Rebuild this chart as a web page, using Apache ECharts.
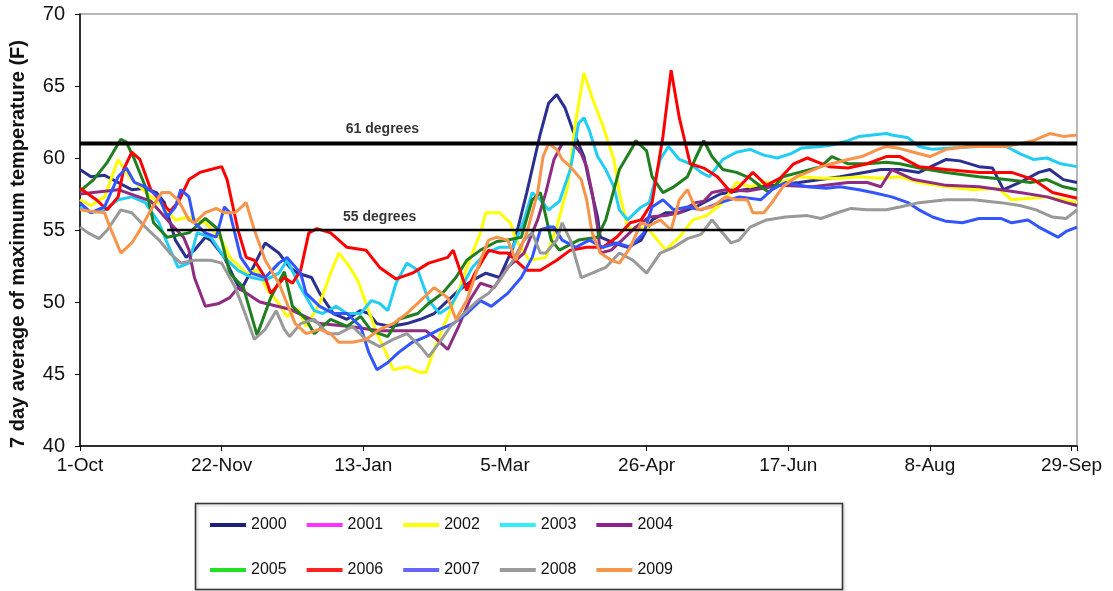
<!DOCTYPE html>
<html><head><meta charset="utf-8">
<script src="https://cdn.jsdelivr.net/npm/echarts@6/dist/echarts.min.js"></script>
<style>html,body{margin:0;padding:0;background:#fff}#c{width:1113px;height:591px}</style>
</head><body><div id="c"></div>
<script>
const categories = ['2000','2001','2002','2003','2004','2005','2006','2007','2008','2009'];
const tickLabels = ['1-Oct','22-Nov','13-Jan','5-Mar','26-Apr','17-Jun','8-Aug','29-Sep'];
const tickStep = 52;
const dayMax = 366;
const refLevels = [61, 55];
const refStart = [0, 32];
const refEnd = [366, 244];
const refText = ['61 degrees', '55 degrees'];
const refTextPos = [[111, 62.0], [110, 55.9]];

const s2000 = [[0,59.2],[4,58.7],[9,58.8],[14,58.3],[19,57.8],[24,57.9],[28,57.6],[31,56.9],[35,54.3],[39,53.1],[42,53.6],[46,54.5],[48,54.3],[53,53.1],[57,51.5],[59,50.8],[63,52.2],[68,54.1],[73,53.4],[77,52.4],[80,52.0],[85,51.7],[88,50.6],[93,49.2],[98,48.8],[103,49.4],[106,49.2],[109,48.5],[114,48.3],[120,48.5],[125,48.8],[130,49.2],[135,50.1],[139,50.8],[144,51.5],[149,52.0],[154,51.7],[159,53.8],[164,57.6],[169,61.7],[172,63.8],[175,64.4],[178,63.5],[181,61.9],[185,60.1],[187,58.3],[190,55.9],[191,54.5],[196,54.1],[201,53.8],[206,54.3],[210,55.7],[215,56.2],[220,56.2],[226,56.6],[235,57.5],[250,58.0],[264,58.3],[279,58.7],[294,59.2],[301,59.2],[308,59.0],[318,59.9],[323,59.8],[330,59.4],[335,59.3],[339,57.8],[345,58.3],[352,59.0],[356,59.2],[361,58.5],[366,58.3]];
const s2001 = [];
const s2002 = [[0,57.1],[4,56.7],[9,57.3],[14,59.9],[18,58.7],[22,58.0],[26,57.3],[31,56.6],[35,55.7],[40,55.9],[46,55.5],[52,54.3],[55,53.1],[61,52.0],[65,52.2],[69,50.8],[73,49.9],[76,49.0],[80,49.5],[83,48.3],[88,49.9],[92,52.0],[95,53.4],[98,52.7],[102,51.5],[105,49.9],[109,47.8],[113,46.2],[115,45.3],[120,45.5],[125,45.1],[127,45.1],[131,47.2],[135,49.0],[139,50.8],[143,52.9],[147,54.8],[149,56.2],[154,56.2],[158,55.5],[160,54.3],[165,52.9],[171,53.1],[175,55.2],[179,58.0],[182,62.6],[185,65.9],[188,64.2],[192,62.2],[196,59.9],[198,57.6],[201,55.2],[204,55.0],[208,55.2],[212,54.3],[215,53.6],[220,54.5],[225,55.7],[230,56.0],[236,56.9],[241,58.3],[246,58.0],[252,58.3],[257,58.3],[264,58.7],[272,58.6],[279,58.6],[286,58.7],[294,58.6],[301,58.7],[308,58.3],[318,58.0],[328,57.8],[337,57.9],[342,57.1],[349,57.2],[355,57.3],[361,57.1],[366,56.9]];
const s2003 = [[0,56.6],[4,56.2],[9,56.4],[14,57.1],[19,57.3],[24,56.9],[29,55.5],[32,54.1],[36,52.4],[40,52.7],[43,54.8],[48,54.5],[53,53.1],[58,52.2],[63,51.7],[68,51.5],[73,52.0],[76,52.9],[81,51.0],[86,49.4],[89,49.2],[94,49.7],[98,49.2],[103,49.2],[107,50.1],[110,49.9],[113,49.4],[116,51.3],[120,52.7],[124,52.2],[128,50.1],[132,49.2],[136,49.7],[140,51.0],[144,52.4],[149,53.4],[154,53.8],[159,53.8],[163,55.7],[166,57.6],[169,57.1],[172,56.4],[176,57.0],[180,59.2],[183,62.4],[185,62.8],[187,61.9],[190,60.1],[193,59.2],[196,58.0],[198,56.4],[201,55.7],[206,56.6],[209,56.9],[213,59.9],[216,60.8],[220,59.9],[224,59.6],[228,59.0],[231,58.7],[236,59.9],[241,60.4],[246,60.6],[251,60.2],[256,60.0],[261,60.3],[265,60.7],[272,60.8],[276,60.9],[282,61.2],[286,61.5],[291,61.6],[296,61.7],[298,61.6],[304,61.4],[308,60.8],[313,60.6],[320,60.7],[330,60.8],[340,60.8],[345,60.3],[350,59.9],[355,60.0],[360,59.6],[366,59.4]];
const s2004 = [[0,57.5],[14,57.8],[26,57.0],[33,55.5],[38,54.5],[40,53.6],[42,51.7],[46,49.7],[51,49.9],[55,50.3],[58,51.0],[66,50.0],[77,49.5],[88,48.5],[99,48.3],[110,48.0],[120,48.0],[127,48.0],[131,47.4],[135,46.7],[139,48.3],[143,50.1],[147,51.3],[152,51.0],[157,52.4],[163,53.4],[168,55.7],[171,57.6],[174,59.9],[177,61.0],[181,61.0],[184,60.3],[186,59.4],[188,57.6],[190,55.2],[191,53.4],[195,53.6],[199,54.3],[204,55.2],[209,55.9],[215,56.0],[220,56.2],[226,56.9],[229,57.0],[232,57.6],[237,57.8],[245,57.7],[257,58.1],[269,58.0],[282,58.3],[289,58.3],[294,58.0],[298,59.2],[306,58.5],[318,58.1],[330,58.0],[338,57.8],[345,57.6],[355,57.3],[362,56.9],[366,56.7]];
const s2005 = [[0,57.7],[5,58.5],[10,59.7],[15,61.3],[17,61.1],[20,59.9],[24,58.0],[27,55.5],[32,54.5],[40,54.8],[46,55.8],[51,55.0],[55,52.0],[60,51.0],[65,47.7],[70,50.3],[75,52.1],[78,49.7],[83,48.8],[86,47.8],[92,48.8],[98,48.3],[103,49.0],[107,48.0],[113,47.6],[117,48.8],[124,49.2],[128,49.9],[133,50.6],[138,51.7],[142,52.9],[147,53.6],[153,54.2],[157,54.3],[162,54.5],[166,57.1],[169,57.6],[173,54.3],[176,53.6],[183,54.3],[190,54.5],[193,55.7],[198,59.2],[203,60.8],[204,61.2],[208,60.5],[210,58.7],[214,57.6],[218,58.0],[223,58.7],[226,60.0],[229,61.2],[232,60.1],[236,59.2],[241,59.0],[246,58.6],[250,58.0],[253,57.6],[258,58.7],[264,59.0],[272,59.4],[276,60.1],[282,59.6],[289,59.6],[296,59.7],[301,59.6],[308,59.3],[318,59.0],[330,58.7],[340,58.5],[349,58.3],[355,58.5],[361,58.0],[366,57.8]];
const s2006 = [[0,57.9],[6,57.1],[10,56.4],[14,57.3],[16,59.2],[19,60.4],[22,59.9],[26,57.8],[30,56.9],[33,56.3],[36,56.9],[40,58.5],[44,59.0],[48,59.2],[52,59.4],[54,58.5],[58,55.0],[61,53.1],[64,52.9],[68,51.7],[70,50.6],[75,51.7],[78,51.3],[81,52.2],[84,54.8],[87,55.1],[92,54.8],[98,53.8],[105,53.6],[110,52.4],[116,51.6],[122,52.0],[128,52.7],[135,53.1],[137,53.6],[142,50.8],[145,52.0],[150,53.6],[154,53.4],[157,53.4],[164,52.2],[169,52.2],[175,52.9],[180,53.6],[186,53.8],[192,53.8],[197,54.5],[202,55.5],[206,55.7],[210,56.9],[214,61.5],[217,66.1],[220,62.8],[224,59.6],[229,59.3],[234,58.7],[239,57.6],[242,58.0],[247,59.0],[252,58.1],[257,58.6],[262,59.6],[267,60.0],[271,59.7],[275,59.4],[282,59.3],[289,59.6],[296,60.1],[301,60.1],[308,59.4],[318,59.2],[330,59.0],[342,59.0],[350,58.5],[357,57.6],[366,57.2]];
const s2007 = [[0,56.9],[4,56.2],[9,56.6],[14,58.7],[17,59.3],[20,58.3],[24,58.0],[29,57.3],[32,55.9],[35,56.6],[37,57.8],[40,57.3],[42,55.5],[46,54.8],[50,54.5],[53,56.6],[55,56.2],[59,53.1],[63,52.0],[68,51.7],[73,52.7],[76,53.1],[81,52.0],[83,50.6],[88,49.7],[93,49.2],[98,49.2],[103,48.3],[106,46.5],[109,45.3],[113,45.8],[117,46.5],[122,47.2],[127,47.6],[132,48.1],[137,48.5],[142,49.2],[147,50.1],[151,49.7],[157,50.6],[162,51.7],[166,53.1],[169,55.0],[172,55.2],[174,55.2],[177,54.3],[182,53.8],[187,54.3],[192,53.8],[197,54.1],[202,53.8],[207,54.8],[210,56.6],[214,57.1],[218,56.4],[223,56.6],[228,56.4],[235,56.9],[242,57.3],[250,57.1],[254,57.8],[259,58.3],[267,58.0],[274,57.9],[279,58.0],[286,57.8],[291,57.6],[298,57.3],[304,56.9],[308,56.4],[313,55.9],[318,55.6],[324,55.5],[330,55.8],[338,55.8],[342,55.5],[348,55.7],[352,55.2],[359,54.5],[362,54.9],[366,55.2]];
const s2008 = [[0,55.2],[3,54.8],[7,54.4],[10,55.0],[15,56.4],[19,56.2],[24,55.2],[29,54.3],[33,53.4],[37,52.7],[42,52.9],[48,52.9],[52,52.7],[57,51.0],[61,49.0],[64,47.4],[68,48.1],[72,49.4],[75,48.1],[77,47.6],[81,48.5],[86,48.8],[91,47.8],[95,47.8],[100,48.3],[105,47.4],[110,46.9],[115,47.4],[120,47.8],[125,46.9],[128,46.2],[132,47.2],[136,48.3],[141,49.2],[146,50.1],[150,50.6],[154,51.5],[159,52.9],[163,54.3],[166,54.8],[169,53.4],[171,53.4],[175,54.3],[177,55.5],[180,54.3],[184,51.7],[188,52.0],[193,52.4],[198,53.4],[203,52.9],[208,52.0],[213,53.4],[218,53.8],[223,54.4],[228,54.7],[232,55.7],[235,55.0],[239,54.1],[242,54.3],[246,55.2],[252,55.7],[259,55.9],[267,56.0],[272,55.8],[278,56.2],[283,56.5],[289,56.4],[296,56.4],[301,56.6],[308,56.9],[318,57.1],[328,57.1],[338,56.9],[345,56.7],[351,56.4],[357,55.9],[362,55.8],[366,56.4]];
const s2009 = [[0,56.4],[4,56.3],[9,56.2],[11,55.2],[15,53.4],[19,54.1],[22,55.0],[26,56.4],[30,57.6],[33,57.6],[36,57.1],[40,55.7],[42,55.5],[46,56.2],[50,56.5],[53,56.2],[57,56.2],[61,56.9],[64,55.0],[68,52.9],[73,51.3],[76,49.9],[79,48.5],[83,47.8],[88,48.1],[92,47.8],[95,47.2],[100,47.2],[105,47.4],[110,48.1],[115,48.5],[120,49.2],[125,50.1],[130,51.0],[135,50.3],[138,48.8],[142,50.1],[147,52.9],[150,54.3],[153,54.5],[157,54.3],[160,52.9],[164,54.8],[168,57.6],[170,60.1],[172,61.0],[175,60.6],[177,59.9],[180,59.4],[184,58.5],[186,57.1],[188,54.8],[191,53.4],[195,52.9],[198,52.7],[202,53.8],[206,55.5],[209,55.3],[213,55.7],[217,55.0],[220,57.1],[223,57.8],[225,56.9],[227,56.4],[232,56.6],[237,57.3],[241,57.1],[245,57.1],[247,56.2],[251,56.2],[254,56.9],[258,58.0],[263,58.7],[267,59.0],[272,59.4],[276,59.6],[282,59.9],[287,60.1],[293,60.6],[296,60.8],[300,60.7],[306,60.4],[312,60.1],[318,60.6],[326,60.8],[333,60.8],[340,60.8],[345,61.0],[350,61.2],[356,61.7],[361,61.5],[366,61.6]];

const seriesData = [s2000, s2001, s2002, s2003, s2004, s2005, s2006, s2007, s2008, s2009];
const lineColors = ['#2b2f8f','#ff00ff','#ffff00','#22ccf5','#8e2c82','#1f7f1f','#ff0000','#3355ff','#999999','#f7944a'];
const legendColors = ['#1a1f7a','#ff33ff','#ffff00','#33eeff','#8e1f8e','#22e022','#ff2222','#6666ff','#9a9a9a','#f79646'];

const FONT = 'Liberation Sans, Arial, sans-serif';
const chart = echarts.init(document.getElementById('c'), null, {renderer: 'canvas'});

const series = categories.map((name, i) => ({
  name: name, type: 'line', data: seriesData[i], showSymbol: false, symbol: 'none',
  lineStyle: {color: lineColors[i], width: 3}, itemStyle: {color: lineColors[i]},
  z: 2 + i * 0.01, silent: true, animation: false
}));
refLevels.forEach((lv, k) => {
  series.push({
    name: 'ref' + k, type: 'line', data: [[refStart[k], lv], [refEnd[k], lv]], symbol: 'none',
    lineStyle: {color: '#000', width: k === 0 ? 4 : 2.5}, z: 5, silent: true, animation: false
  });
});
series.push({
  name: 'refLabels', type: 'scatter', symbolSize: 0, z: 6, silent: true, animation: false,
  data: refTextPos.map((p, k) => ({value: p, label: {formatter: refText[k]}})),
  label: {show: true, position: 'inside', color: '#000', fontWeight: 'bold', fontSize: 14, fontFamily: FONT}
});

function legendItems(from, to) {
  return categories.slice(from, to).map((n, j) => ({name: n, itemStyle: {color: legendColors[from + j]}}));
}
const legendBase = {
  orient: 'horizontal', icon: 'rect', itemWidth: 36, itemHeight: 4, itemGap: 20,
  textStyle: {fontSize: 16, fontFamily: FONT, color: '#111'}, selectedMode: false, left: 205
};

chart.setOption({
  backgroundColor: '#fff',
  animation: false,
  grid: {left: 80, right: 36, top: 14, bottom: 145, show: true, borderColor: '#a0a0a0', borderWidth: 1.5,
    containLabel: false, outerBoundsMode: 'none'},
  xAxis: {
    type: 'value', min: 0, max: dayMax, interval: tickStep,
    axisLine: {show: true, lineStyle: {color: '#000', width: 1.5}},
    axisTick: {show: true, length: 5, lineStyle: {color: '#000'}},
    splitLine: {show: false},
    axisLabel: {margin: 10, fontSize: 19, fontFamily: FONT, color: '#111',
      formatter: v => (v % tickStep === 0 && tickLabels[v / tickStep]) ? tickLabels[v / tickStep] : ''}
  },
  yAxis: {
    type: 'value', min: 40, max: 70, interval: 5,
    name: '7 day average of maximum temperature (F)', nameLocation: 'middle', nameGap: 52,
    nameTextStyle: {fontSize: 20, fontWeight: 'bold', fontFamily: FONT, color: '#111', padding: [0, 28, 0, 0]},
    axisLine: {show: true, lineStyle: {color: '#000', width: 1.5}},
    axisTick: {show: true, length: 5, lineStyle: {color: '#000'}},
    splitLine: {show: false},
    axisLabel: {margin: 15, fontSize: 20, fontFamily: FONT, color: '#111'}
  },
  legend: [
    Object.assign({}, legendBase, {top: 512, data: legendItems(0, 5)}),
    Object.assign({}, legendBase, {top: 557, data: legendItems(5, 10)})
  ],
  graphic: [{type: 'rect', left: 193, top: 501, shape: {width: 647, height: 86},
    style: {fill: 'none', stroke: '#333', lineWidth: 1.5, shadowBlur: 3, shadowColor: 'rgba(0,0,0,0.3)', shadowOffsetX: 1, shadowOffsetY: 1}, z: -1}],
  series: series
});
</script></body></html>
